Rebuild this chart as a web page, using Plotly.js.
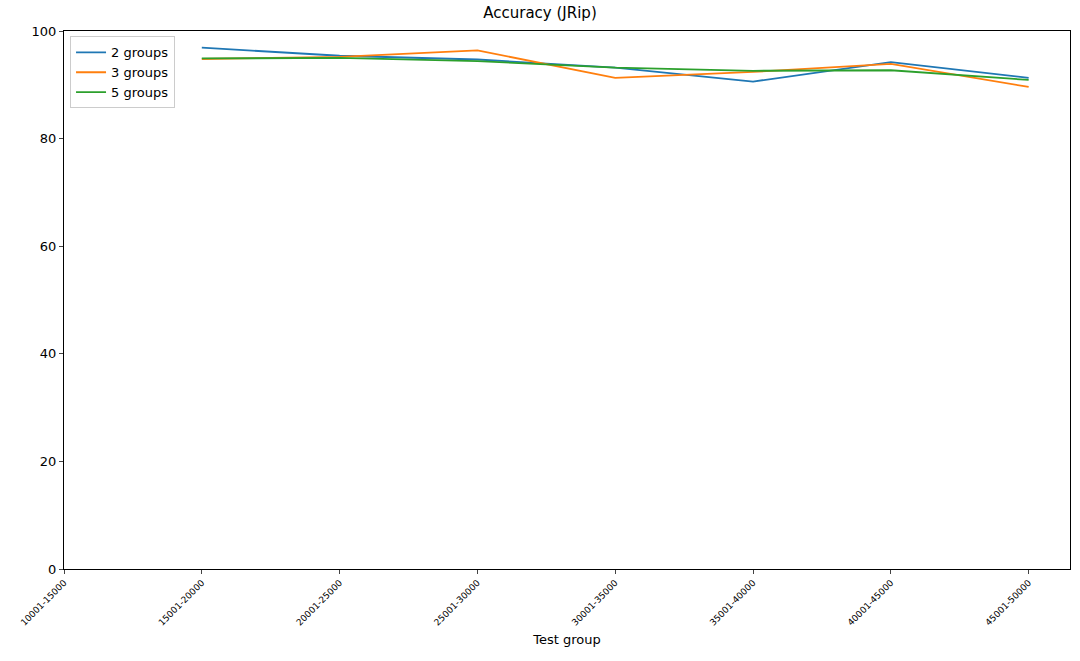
<!DOCTYPE html>
<html>
<head>
<script src="https://cdn.plot.ly/plotly-3.0.1.min.js"></script>
<style>body{margin:0}</style>
</head>
<body>
<div id="chart" style="width:1080px;height:661px"></div>
<script>
var groups = ["10001-15000","15001-20000","20001-25000","25001-30000","30001-35000","35001-40000","40001-45000","45001-50000"];
var xs = groups.slice(1);
var acc2 = [96.9, 95.4, 94.7, 93.2, 90.6, 94.2, 91.3];
var acc3 = [94.8, 95.2, 96.4, 91.3, 92.4, 93.9, 89.6];
var acc5 = [94.9, 95.0, 94.4, 93.2, 92.6, 92.7, 90.9];

function trace(y, name, color) {
  return {x: xs, y: y, name: name, type: "scatter", mode: "lines",
          line: {color: color, width: 1.8}};
}

var data = [
  trace(acc2, "2 groups", "#1f77b4"),
  trace(acc3, "3 groups", "#ff7f0e"),
  trace(acc5, "5 groups", "#2ca02c")
];

var layout = {
  font: {family: "DejaVu Sans", size: 13, color: "#000"},
  title: {text: "Accuracy (JRip)", x: 0.5, y: 0.988, yanchor: "top", font: {size: 15}},
  margin: {l: 64, r: 10, t: 31, b: 92},
  showlegend: true,
  legend: {x: 0.006, y: 0.99, bordercolor: "#ccc", borderwidth: 1, bgcolor: "#fff", font: {size: 13}},
  xaxis: {
    type: "category", categoryorder: "array", categoryarray: groups,
    tickvals: groups, ticktext: groups,
    range: [0, 7.3], tickangle: -45, tickfont: {size: 9},
    showgrid: false, zeroline: false, ticks: "outside", ticklen: 4,
    showline: true, mirror: true, linecolor: "#000",
    title: {text: "Test group", font: {size: 13}, standoff: 8}
  },
  yaxis: {
    range: [0, 100], dtick: 20, showgrid: false, zeroline: false,
    ticks: "outside", ticklen: 4, showline: true, mirror: true, linecolor: "#000"
  },
  plot_bgcolor: "#fff", paper_bgcolor: "#fff"
};

Plotly.newPlot("chart", data, layout, {displayModeBar: false});
</script>
</body>
</html>
